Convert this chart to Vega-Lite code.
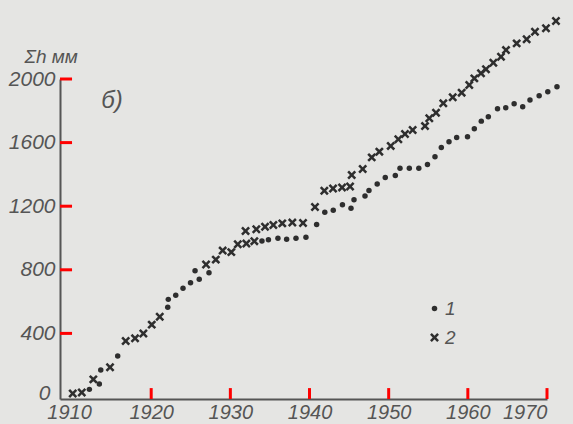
{
  "$schema": "https://vega.github.io/schema/vega-lite/v6.json",
  "width": 487,
  "height": 320,
  "autosize": {"type": "none"},
  "padding": {"left": 60, "top": 79, "right": 26, "bottom": 25},
  "background": "#e5e5e3",
  "config": {
    "view": {"stroke": null},
    "font": "Liberation Sans",
    "axis": {
      "grid": false,
      "ticks": false,
      "domainColor": "#555555",
      "domainWidth": 2,
      "labelColor": "#555555",
      "labelFont": "Liberation Sans",
      "labelFontStyle": "italic",
      "labelFontSize": 21
    }
  },
  "datasets": {
    "pts": [
      {"year": 1912.19, "value": 48, "series": "1"},
      {"year": 1913.45, "value": 82, "series": "1"},
      {"year": 1913.63, "value": 170, "series": "1"},
      {"year": 1915.77, "value": 258, "series": "1"},
      {"year": 1922.09, "value": 564, "series": "1"},
      {"year": 1922.16, "value": 614, "series": "1"},
      {"year": 1923.10, "value": 640, "series": "1"},
      {"year": 1924.02, "value": 684, "series": "1"},
      {"year": 1924.97, "value": 719, "series": "1"},
      {"year": 1925.54, "value": 794, "series": "1"},
      {"year": 1926.07, "value": 740, "series": "1"},
      {"year": 1927.30, "value": 782, "series": "1"},
      {"year": 1933.99, "value": 981, "series": "1"},
      {"year": 1934.81, "value": 989, "series": "1"},
      {"year": 1936.01, "value": 998, "series": "1"},
      {"year": 1937.11, "value": 992, "series": "1"},
      {"year": 1938.29, "value": 998, "series": "1"},
      {"year": 1939.55, "value": 1004, "series": "1"},
      {"year": 1940.90, "value": 1085, "series": "1"},
      {"year": 1941.93, "value": 1162, "series": "1"},
      {"year": 1943.00, "value": 1174, "series": "1"},
      {"year": 1944.16, "value": 1209, "series": "1"},
      {"year": 1945.24, "value": 1187, "series": "1"},
      {"year": 1945.62, "value": 1241, "series": "1"},
      {"year": 1947.01, "value": 1264, "series": "1"},
      {"year": 1947.51, "value": 1299, "series": "1"},
      {"year": 1948.55, "value": 1340, "series": "1"},
      {"year": 1949.57, "value": 1380, "series": "1"},
      {"year": 1950.84, "value": 1393, "series": "1"},
      {"year": 1951.43, "value": 1438, "series": "1"},
      {"year": 1952.61, "value": 1438, "series": "1"},
      {"year": 1953.81, "value": 1438, "series": "1"},
      {"year": 1954.90, "value": 1462, "series": "1"},
      {"year": 1955.85, "value": 1511, "series": "1"},
      {"year": 1956.65, "value": 1569, "series": "1"},
      {"year": 1957.62, "value": 1606, "series": "1"},
      {"year": 1958.59, "value": 1632, "series": "1"},
      {"year": 1959.96, "value": 1637, "series": "1"},
      {"year": 1960.82, "value": 1687, "series": "1"},
      {"year": 1961.70, "value": 1735, "series": "1"},
      {"year": 1962.59, "value": 1763, "series": "1"},
      {"year": 1963.75, "value": 1813, "series": "1"},
      {"year": 1964.79, "value": 1819, "series": "1"},
      {"year": 1965.85, "value": 1845, "series": "1"},
      {"year": 1966.93, "value": 1826, "series": "1"},
      {"year": 1967.85, "value": 1868, "series": "1"},
      {"year": 1969.01, "value": 1894, "series": "1"},
      {"year": 1970.10, "value": 1920, "series": "1"},
      {"year": 1971.26, "value": 1951, "series": "1"},
      {"year": 1910.09, "value": 22, "series": "2"},
      {"year": 1911.23, "value": 28, "series": "2"},
      {"year": 1912.69, "value": 111, "series": "2"},
      {"year": 1914.80, "value": 187, "series": "2"},
      {"year": 1916.78, "value": 352, "series": "2"},
      {"year": 1917.96, "value": 369, "series": "2"},
      {"year": 1919.01, "value": 399, "series": "2"},
      {"year": 1920.07, "value": 455, "series": "2"},
      {"year": 1921.08, "value": 505, "series": "2"},
      {"year": 1926.93, "value": 833, "series": "2"},
      {"year": 1928.16, "value": 864, "series": "2"},
      {"year": 1929.03, "value": 921, "series": "2"},
      {"year": 1930.12, "value": 911, "series": "2"},
      {"year": 1930.94, "value": 961, "series": "2"},
      {"year": 1932.02, "value": 965, "series": "2"},
      {"year": 1933.03, "value": 980, "series": "2"},
      {"year": 1931.92, "value": 1044, "series": "2"},
      {"year": 1933.28, "value": 1055, "series": "2"},
      {"year": 1934.38, "value": 1071, "series": "2"},
      {"year": 1935.43, "value": 1082, "series": "2"},
      {"year": 1936.56, "value": 1092, "series": "2"},
      {"year": 1937.83, "value": 1097, "series": "2"},
      {"year": 1939.18, "value": 1094, "series": "2"},
      {"year": 1940.69, "value": 1195, "series": "2"},
      {"year": 1941.87, "value": 1297, "series": "2"},
      {"year": 1942.97, "value": 1311, "series": "2"},
      {"year": 1944.11, "value": 1318, "series": "2"},
      {"year": 1945.12, "value": 1324, "series": "2"},
      {"year": 1945.33, "value": 1396, "series": "2"},
      {"year": 1946.72, "value": 1434, "series": "2"},
      {"year": 1947.86, "value": 1507, "series": "2"},
      {"year": 1948.82, "value": 1543, "series": "2"},
      {"year": 1950.26, "value": 1579, "series": "2"},
      {"year": 1951.22, "value": 1621, "series": "2"},
      {"year": 1952.06, "value": 1654, "series": "2"},
      {"year": 1953.03, "value": 1679, "series": "2"},
      {"year": 1954.59, "value": 1704, "series": "2"},
      {"year": 1955.13, "value": 1753, "series": "2"},
      {"year": 1955.98, "value": 1788, "series": "2"},
      {"year": 1956.90, "value": 1847, "series": "2"},
      {"year": 1958.09, "value": 1885, "series": "2"},
      {"year": 1959.22, "value": 1914, "series": "2"},
      {"year": 1960.18, "value": 1962, "series": "2"},
      {"year": 1960.82, "value": 2004, "series": "2"},
      {"year": 1961.66, "value": 2036, "series": "2"},
      {"year": 1962.29, "value": 2061, "series": "2"},
      {"year": 1963.22, "value": 2102, "series": "2"},
      {"year": 1964.19, "value": 2140, "series": "2"},
      {"year": 1964.82, "value": 2182, "series": "2"},
      {"year": 1966.17, "value": 2224, "series": "2"},
      {"year": 1967.43, "value": 2250, "series": "2"},
      {"year": 1968.48, "value": 2297, "series": "2"},
      {"year": 1969.87, "value": 2319, "series": "2"},
      {"year": 1971.13, "value": 2365, "series": "2"}
    ],
    "lab": [{"x": 1915.05, "y": 1862, "t": "б)"}],
    "xticks": [{"v": 1920}, {"v": 1930}, {"v": 1940}, {"v": 1950}, {"v": 1960}, {"v": 1970}],
    "yticks": [{"v": 400}, {"v": 800}, {"v": 1200}, {"v": 1600}, {"v": 2000}]
  },
  "layer": [
    {
      "data": {"name": "pts"},
      "mark": {"type": "point", "filled": true, "opacity": 1},
      "encoding": {
        "x": {
          "field": "year",
          "type": "quantitative",
          "scale": {"domain": [1908.48, 1970], "nice": false, "zero": false},
          "axis": {
            "values": [1910, 1920, 1930, 1940, 1950, 1960, 1970],
            "format": "d",
            "title": null,
            "labelFontSize": 20,
            "labelPadding": 3,
            "labelOffset": {"condition": {"test": "datum.value == 1910", "value": -3}, "value": 0}
          }
        },
        "y": {
          "field": "value",
          "type": "quantitative",
          "scale": {"domain": [-12.6, 2000], "nice": false, "zero": false},
          "axis": {
            "values": [0, 400, 800, 1200, 1600, 2000],
            "format": "d",
            "labelPadding": {"condition": {"test": "datum.value == 0", "value": 10}, "value": 5},
            "labelOffset": {"condition": {"test": "datum.value == 0", "value": -3}, "value": 0},
            "title": "Σh мм",
            "titleAngle": 0,
            "titleAlign": "left",
            "titleBaseline": "alphabetic",
            "titleX": -36,
            "titleY": -17,
            "titleFont": "Liberation Sans",
            "titleFontStyle": "italic",
            "titleFontWeight": "normal",
            "titleFontSize": 19,
            "titleColor": "#555555"
          }
        },
        "shape": {
          "field": "series",
          "type": "nominal",
          "scale": {
            "domain": ["1", "2"],
            "range": ["circle", "M0.6,-1L1,-0.6L0.4,0L1,0.6L0.6,1L0,0.4L-0.6,1L-1,0.6L-0.4,0L-1,-0.6L-0.6,-1L0,-0.4Z"]
          },
          "legend": {
            "orient": "none",
            "legendX": 365,
            "legendY": 220,
            "title": null,
            "labelFont": "Liberation Sans",
            "labelFontStyle": "italic",
            "labelFontSize": 19,
            "labelColor": "#555555",
            "rowPadding": 9,
            "labelOffset": 1,
            "symbolFillColor": "#2e2e2e",
            "symbolStrokeColor": "#2e2e2e",
            "symbolOpacity": 1
          }
        },
        "size": {
          "field": "series",
          "type": "nominal",
          "scale": {"domain": ["1", "2"], "range": [30, 80]}
        },
        "color": {"value": "#2e2e2e"}
      }
    },
    {
      "data": {"name": "xticks"},
      "mark": {"type": "rule", "color": "#ff0000", "strokeWidth": 3, "opacity": 1},
      "encoding": {
        "x": {"field": "v", "type": "quantitative"},
        "y": {"datum": -12.6, "type": "quantitative"},
        "y2": {"datum": 56}
      }
    },
    {
      "data": {"name": "yticks"},
      "mark": {"type": "rule", "color": "#ff0000", "strokeWidth": 3, "opacity": 1},
      "encoding": {
        "y": {"field": "v", "type": "quantitative"},
        "x": {"datum": 1908.48, "type": "quantitative"},
        "x2": {"datum": 1910.0}
      }
    },
    {
      "data": {"name": "lab"},
      "mark": {
        "type": "text",
        "font": "Liberation Sans",
        "fontStyle": "italic",
        "fontSize": 24,
        "color": "#555555",
        "align": "center",
        "baseline": "middle"
      },
      "encoding": {
        "x": {"field": "x", "type": "quantitative"},
        "y": {"field": "y", "type": "quantitative"},
        "text": {"field": "t", "type": "nominal"}
      }
    }
  ]
}
